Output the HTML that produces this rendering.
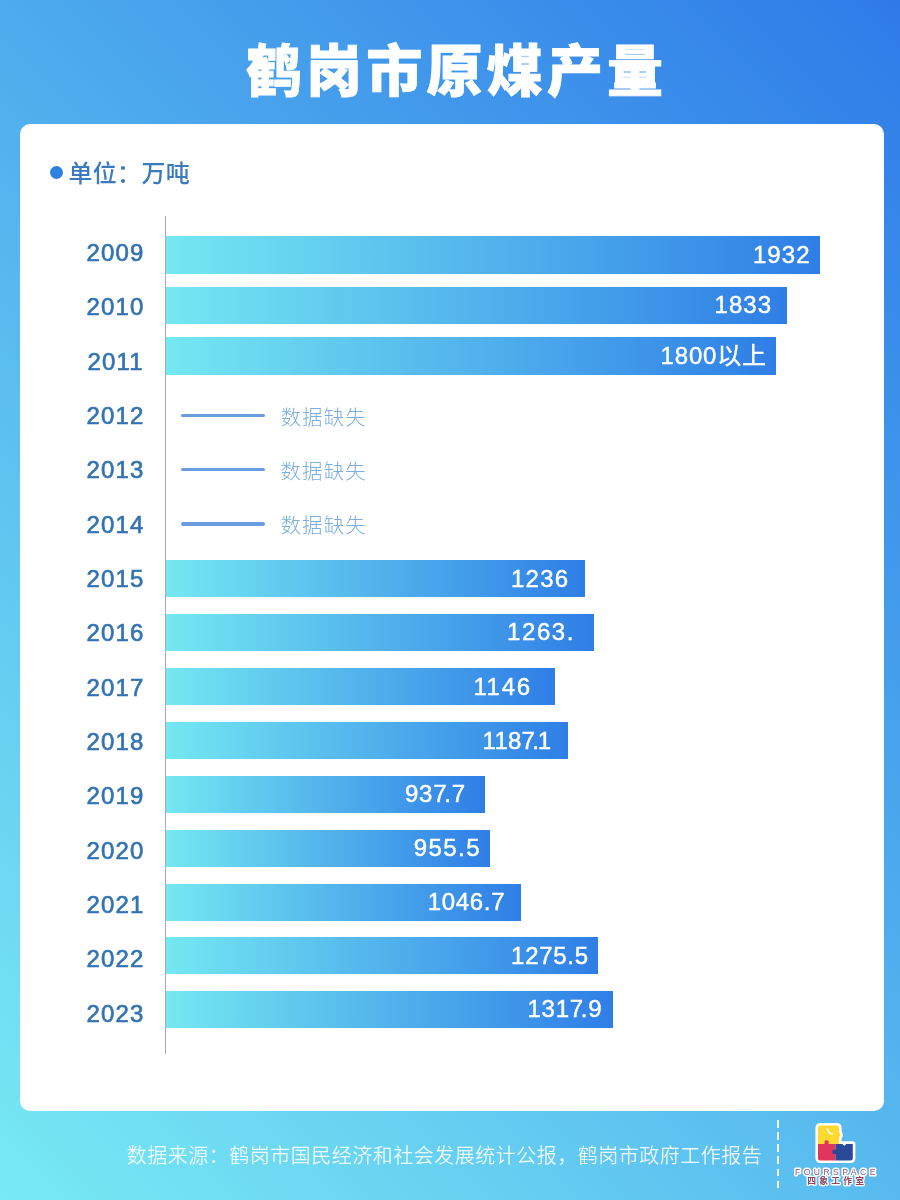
<!DOCTYPE html>
<html lang="zh-CN">
<head>
<meta charset="utf-8">
<title>鹤岗市原煤产量</title>
<style>
html,body{margin:0;padding:0}
body{width:900px;height:1200px;position:relative;overflow:hidden;
 background:linear-gradient(45deg,#78eaf4 0%,#2e7be8 100%);
 font-family:"Liberation Sans","Noto Sans CJK SC",sans-serif}
.abs,.yr,.bar,.val,.ln,.ms{position:absolute;white-space:nowrap}
h1{position:absolute;left:4.5px;top:29.5px;width:900px;margin:0;text-align:center;color:#fff;
 font-family:"Liberation Sans","Noto Sans CJK SC",sans-serif;font-weight:900;font-size:56px;line-height:84px;letter-spacing:4.2px;text-indent:4.2px;-webkit-text-stroke:0.8px #fff}
.card{position:absolute;left:20px;top:124px;width:864px;height:987px;background:#fff;border-radius:10px}
.dot{position:absolute;left:50px;top:166px;width:13px;height:13px;border-radius:50%;background:#2f80e0}
.unit{left:68.5px;top:154px;line-height:40px;font-size:24px;font-weight:500;color:#3b7abd;letter-spacing:0.3px}
.axis{position:absolute;left:164.5px;top:216px;width:1px;height:838px;background:#a9adb3}
.yr{left:80px;width:70px;text-align:center;line-height:40px;font-size:24px;font-weight:400;color:#3373b3;letter-spacing:1.15px;text-indent:1.15px;-webkit-text-stroke:0.65px #3373b3}
.bar{left:165.5px;background:linear-gradient(to right,#74e8f2 0%,#2f7ee6 100%)}
.val{line-height:40px;font-size:24px;color:#fff;-webkit-text-stroke:0.45px #fff}
.ln{left:180.5px;width:84.5px;height:3.5px;border-radius:2px;background:#6a9de0}
.ms{left:280.5px;line-height:40px;font-size:20.4px;font-weight:300;color:#7aaee0;letter-spacing:1.2px}
.src{left:126.8px;top:1135.8px;line-height:40px;font-size:20px;font-weight:350;color:rgba(255,255,255,.86);letter-spacing:.5px}
.dash{position:absolute;left:776.8px;top:1120.4px;width:2.4px;height:68.4px;
 background:repeating-linear-gradient(to bottom,#f2fcff 0,#f2fcff 7.5px,transparent 7.5px,transparent 12.13px)}
</style>
</head>
<body>
<h1>鹤岗市原煤产量</h1>
<div class="card"></div>
<div class="dot"></div>
<div class="abs unit">单位：万吨</div>
<div class="axis"></div>
<div class="yr" style="top:232.90px">2009</div>
<div class="bar" style="top:236.25px;height:37.50px;width:654.50px"></div>
<div class="val" id="v2009" style="top:235.00px;right:89.42px;letter-spacing:1.08px">1932</div>
<div class="yr" style="top:287.25px">2010</div>
<div class="bar" style="top:286.50px;height:37.50px;width:621.50px"></div>
<div class="val" id="v2010" style="top:285.25px;right:128.00px;letter-spacing:1.00px">1833</div>
<div class="yr" style="top:341.60px">2011</div>
<div class="bar" style="top:337.00px;height:37.50px;width:610.25px"></div>
<div class="val" id="v2011" style="top:335.75px;right:133.20px;letter-spacing:0.80px">1800以上</div>
<div class="yr" style="top:395.95px">2012</div>
<div class="ln" style="top:413.75px"></div>
<div class="ms" style="top:397.80px">数据缺失</div>
<div class="yr" style="top:450.30px">2013</div>
<div class="ln" style="top:467.75px"></div>
<div class="ms" style="top:451.80px">数据缺失</div>
<div class="yr" style="top:504.65px">2014</div>
<div class="ln" style="top:522.00px"></div>
<div class="ms" style="top:506.05px">数据缺失</div>
<div class="yr" style="top:559.00px">2015</div>
<div class="bar" style="top:560.00px;height:37.25px;width:419.00px"></div>
<div class="val" id="v2015" style="top:558.62px;right:330.83px;letter-spacing:1.17px">1236</div>
<div class="yr" style="top:613.35px">2016</div>
<div class="bar" style="top:613.75px;height:37.25px;width:428.25px"></div>
<div class="val" id="v2016" style="top:612.38px;right:324.88px;letter-spacing:1.62px">1263.</div>
<div class="yr" style="top:667.70px">2017</div>
<div class="bar" style="top:668.00px;height:37.00px;width:389.00px"></div>
<div class="val" id="v2017" style="top:666.50px;right:368.33px;letter-spacing:1.67px">1146</div>
<div class="yr" style="top:722.05px">2018</div>
<div class="bar" style="top:722.00px;height:37.00px;width:402.25px"></div>
<div class="val" id="v2018" style="top:720.50px;right:348.75px;letter-spacing:0.25px">118<span style="letter-spacing:-2.75px">7</span><span style="letter-spacing:-1.25px">.</span>1</div>
<div class="yr" style="top:776.40px">2019</div>
<div class="bar" style="top:775.75px;height:37.00px;width:319.00px"></div>
<div class="val" id="v2019" style="top:774.25px;right:434.25px;letter-spacing:0.75px">93<span style="letter-spacing:-2.25px">7</span>.7</div>
<div class="yr" style="top:830.75px">2020</div>
<div class="bar" style="top:829.50px;height:37.00px;width:324.00px"></div>
<div class="val" id="v2020" style="top:828.00px;right:419.06px;letter-spacing:1.44px">955.5</div>
<div class="yr" style="top:885.10px">2021</div>
<div class="bar" style="top:883.75px;height:36.75px;width:355.00px"></div>
<div class="val" id="v2021" style="top:882.12px;right:394.85px;letter-spacing:0.65px">1046.7</div>
<div class="yr" style="top:939.45px">2022</div>
<div class="bar" style="top:937.00px;height:37.00px;width:432.50px"></div>
<div class="val" id="v2022" style="top:935.50px;right:311.30px;letter-spacing:0.70px">1275.5</div>
<div class="yr" style="top:993.80px">2023</div>
<div class="bar" style="top:990.75px;height:37.25px;width:447.75px"></div>
<div class="val" id="v2023" style="top:989.38px;right:297.80px;letter-spacing:0.70px">131<span style="letter-spacing:-2.30px">7</span>.9</div>
<div class="abs src">数据来源：鹤岗市国民经济和社会发展统计公报，鹤岗市政府工作报告</div>
<div class="dash"></div>
<svg class="abs" style="left:785px;top:1115px" width="100" height="80" viewBox="0 0 100 80">
 <g stroke="#fff" stroke-width="5.2" stroke-linejoin="round" fill="#fff">
  <path d="M33 13 Q33 10.5 35.7 10.5 L51.5 10.5 Q54 10.5 54 13 L54 16 L55.4 20.3 L54 22.6 L54 28.9 L67.8 28.9 L67.8 43 Q67.8 45.5 65.3 45.5 L35.7 45.5 Q33 45.5 33 43 Z"/>
 </g>
 <path d="M33 13 Q33 10.5 35.7 10.5 L51.5 10.5 Q54 10.5 54 13 L54 16 L55.4 20.3 L54 22.6 L54 29.2 L33 29.2 Z" fill="#ffd92e"/>
 <path d="M33 28.9 L39.6 28.9 L39.6 26 Q41.6 24.3 43.6 26 L43.6 28.9 L50.5 28.9 L50.5 45.5 L35.7 45.5 Q33 45.5 33 43 Z" fill="#e0365c"/>
 <path d="M50.5 28.9 L67.8 28.9 L67.8 43 Q67.8 45.5 65.3 45.5 L50.5 45.5 L50.5 39 L48.2 39 Q46.4 36.7 48.2 34.4 L50.5 34.4 Z" fill="#2a4a98"/>
 <path d="M57 28 Q59.3 33.5 61.6 28 Z" fill="#fff"/>
 <path d="M42.5 13.8 Q42.8 18.2 47.5 19" fill="none" stroke="#fff" stroke-width="1.5" stroke-linecap="round"/>
 <g font-family="'Liberation Sans','Noto Sans CJK SC',sans-serif" text-anchor="middle" stroke="#fff" stroke-linejoin="round" paint-order="stroke">
  <text x="51.9" y="60" font-size="8.6" font-weight="400" letter-spacing="3.45" stroke-width="3" fill="#96506e">FOURSPACE</text>
  <text x="52.25" y="69.2" font-size="8.8" font-weight="700" letter-spacing="3.2" stroke-width="2.6" fill="#8a4664">四象工作室</text>
 </g>
</svg>
</body>
</html>
